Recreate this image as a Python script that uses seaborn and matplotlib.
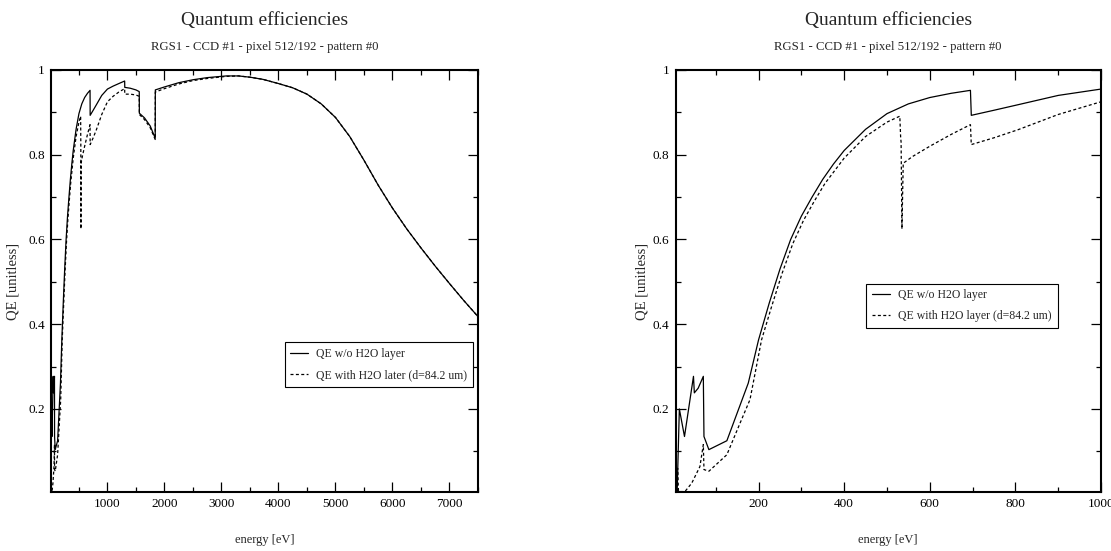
import matplotlib
matplotlib.use('Agg')
import matplotlib.pyplot as plt
import seaborn as sns
import pandas as pd
from matplotlib.ticker import MultipleLocator, FormatStrFormatter

sns.set_style('ticks')
plt.rcParams['font.family'] = ['Liberation Serif', 'DejaVu Serif']

# QE without water layer
energy_dry = [10, 15, 27, 48, 50, 59, 71, 72.5, 84, 126, 176, 200, 225, 250, 275,
              300, 325, 350, 375, 400, 450, 500, 550, 600, 650, 695, 697, 750, 806,
              900, 1000, 1100, 1200, 1302, 1304, 1400, 1500, 1558, 1560, 1650,
              1750, 1838, 1840, 2000, 2250, 2500, 2750, 3085, 3300, 3500, 3725,
              4000, 4250, 4500, 4750, 5000, 5250, 5500, 5750, 6000, 6250, 6500,
              6750, 7000, 7250, 7500]
qe_dry = [0.01, 0.20, 0.135, 0.277, 0.238, 0.249, 0.277, 0.135, 0.104, 0.125, 0.261,
          0.363, 0.45, 0.53, 0.60, 0.655, 0.70, 0.742, 0.778, 0.81, 0.86, 0.897,
          0.92, 0.935, 0.945, 0.952, 0.893, 0.905, 0.918, 0.94, 0.955, 0.962,
          0.968, 0.974, 0.959, 0.957, 0.953, 0.949, 0.898, 0.887, 0.868, 0.839,
          0.953, 0.96, 0.97, 0.977, 0.982, 0.986, 0.986, 0.983, 0.978, 0.968,
          0.958, 0.943, 0.92, 0.888, 0.843, 0.787, 0.728, 0.674, 0.625, 0.58,
          0.537, 0.496, 0.456, 0.418]

# QE with water layer (d=84.2 um)
energy_wet = [10, 11, 13, 28, 44, 63, 71, 72.5, 84, 126, 157, 180, 207, 230, 255,
              280, 305, 330, 355, 400, 450, 500, 530, 532, 533, 535, 538, 545,
              560, 600, 650, 695, 697, 750, 806, 900, 1000, 1100, 1200, 1302,
              1304, 1400, 1500, 1558, 1560, 1650, 1750, 1838, 1840, 2000, 2250,
              2500, 2750, 3085, 3300, 3500, 3725, 4000, 4250, 4500, 4750, 5000,
              5250, 5500, 5750, 6000, 6250, 6500, 6750, 7000, 7250, 7500]
qe_wet = [0.005, 0.06, 0.005, 0.005, 0.025, 0.064, 0.116, 0.057, 0.053, 0.092,
          0.167, 0.222, 0.363, 0.44, 0.52, 0.59, 0.645, 0.69, 0.732, 0.792, 0.843,
          0.877, 0.891, 0.84, 0.83, 0.625, 0.78, 0.785, 0.796, 0.82, 0.848, 0.871,
          0.824, 0.84, 0.859, 0.895, 0.925, 0.938, 0.948, 0.956, 0.943, 0.943,
          0.941, 0.938, 0.895, 0.883, 0.864, 0.836, 0.948, 0.956, 0.967, 0.975,
          0.98, 0.985, 0.986, 0.983, 0.978, 0.968, 0.958, 0.943, 0.92, 0.888,
          0.843, 0.787, 0.728, 0.674, 0.625, 0.58, 0.537, 0.496, 0.456, 0.418]

title = 'Quantum efficiencies'
subtitle = 'RGS1 - CCD #1 - pixel 512/192 - pattern #0'
legend_left = ['QE w/o H2O layer', 'QE with H2O later (d=84.2 um)']
legend_right = ['QE w/o H2O layer', 'QE with H2O layer (d=84.2 um)']

df = pd.concat([
    pd.DataFrame({'energy': energy_dry, 'qe': qe_dry, 'series': 'dry'}),
    pd.DataFrame({'energy': energy_wet, 'qe': qe_wet, 'series': 'wet'}),
], ignore_index=True)

fig = plt.figure(figsize=(11.11, 5.51), dpi=100)
ax_left = fig.add_axes([51 / 1111, 1 - 492 / 551, 427 / 1111, 422 / 551])
ax_right = fig.add_axes([675.5 / 1111, 1 - 492 / 551, 425.5 / 1111, 422 / 551])

# axis, x range, major/minor step, legend labels, legend anchor, ylabel x
panels = [
    (ax_left, (10, 7500), 1000, 500, legend_left, (0.989, 0.355), -0.0726),
    (ax_right, (6, 1000), 200, 100, legend_right, (0.898, 0.494), -0.0646),
]

for ax, xlim, major, minor, labels, loc, ylab_x in panels:
    sns.lineplot(data=df, x='energy', y='qe', style='series', ax=ax,
                 estimator=None, sort=False, color='black', linewidth=0.9,
                 dashes={'dry': '', 'wet': (2.4, 1.9)}, legend=False)
    ax.set_xlim(*xlim)
    ax.set_ylim(0.004, 1.0)
    ax.xaxis.set_major_locator(MultipleLocator(major))
    ax.xaxis.set_minor_locator(MultipleLocator(minor))
    ax.yaxis.set_major_locator(MultipleLocator(0.2))
    ax.yaxis.set_minor_locator(MultipleLocator(0.1))
    ax.yaxis.set_major_formatter(FormatStrFormatter('%g'))
    ax.tick_params(which='both', direction='in', top=True, right=True,
                   labelsize=9.5, width=0.9, pad=4.5, colors='black')
    ax.tick_params(which='major', length=7)
    ax.tick_params(which='minor', length=3.5)
    for s in ax.spines.values():
        s.set_linewidth(1.5)
        s.set_color('black')
    ax.set_xlabel('energy [eV]', fontsize=9, labelpad=17)
    ax.set_ylabel('QE [unitless]', fontsize=10.5)
    ax.yaxis.set_label_coords(ylab_x, 0.5)

    leg = ax.legend(ax.get_lines()[:2], labels, loc='upper right',
                    bbox_to_anchor=loc, fontsize=8.5, frameon=True,
                    fancybox=False, framealpha=1, edgecolor='black',
                    handlelength=1.5, handletextpad=0.7, labelspacing=0.75,
                    borderpad=0.5, borderaxespad=0)
    leg.get_frame().set_linewidth(0.8)

    cx = (ax.get_position().x0 + ax.get_position().x1) / 2
    fig.text(cx, 1 - 21 / 551, title, ha='center', va='center', fontsize=14)
    fig.text(cx, 1 - 47 / 551, subtitle, ha='center', va='center', fontsize=9.2)

fig.savefig('out.png', dpi=100)
